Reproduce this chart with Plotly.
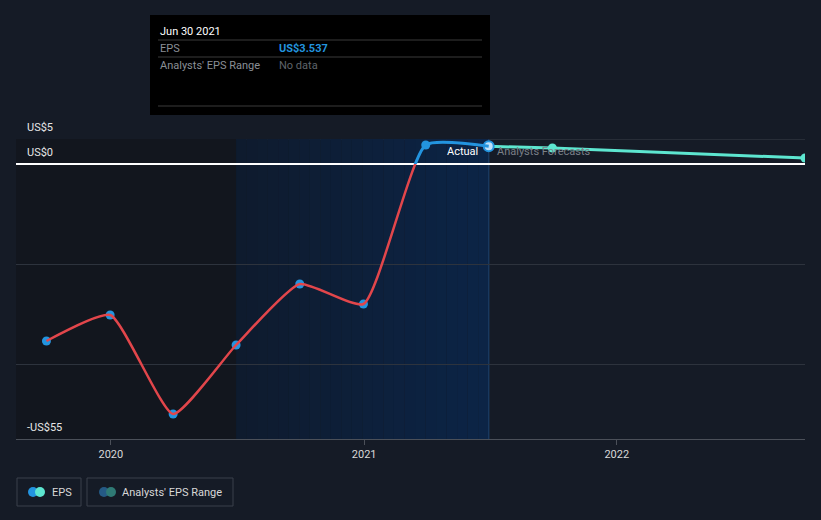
import plotly.graph_objects as go
import pandas as pd

# ---- data ----
actual_dates = ["2019-09-30", "2019-12-31", "2020-03-31", "2020-06-30",
                "2020-09-30", "2020-12-31", "2021-03-31", "2021-06-30"]
actual_eps = [-35.4, -30.2, -50.0, -36.2, -24.0, -28.0, 3.8, 3.537]
forecast_dates = ["2021-06-30", "2021-09-30", "2022-09-30"]
forecast_eps = [3.537, 3.2, 1.2]
year_ticks = ["2020-01-01", "2021-01-01", "2022-01-01"]
year_labels = ["2020", "2021", "2022"]
y_label_vals = [5, 0, -55]
y_label_text = ["US$5", "US$0", "-US$55"]
grid_vals = [-20, -40]
x_range = ["2019-08-17", "2022-09-30"]

BG = "#151b26"
RED = "#e2464b"
BLUE = "#2394df"
TEAL = "#5de6d0"

Y_MIN, Y_MAX = -55, 5
zero_frac = (0 - Y_MIN) / (Y_MAX - Y_MIN)
SMOOTH = 0.5

fig = go.Figure()

# red (negative) part of the line
fig.add_trace(go.Scatter(x=actual_dates, y=actual_eps, mode="lines",
                         line=dict(color=RED, width=2.5, shape="spline", smoothing=SMOOTH),
                         yaxis="y3", hoverinfo="skip", showlegend=False))
# blue (positive) part of the line
fig.add_trace(go.Scatter(x=actual_dates, y=actual_eps, mode="lines",
                         line=dict(color=BLUE, width=3, shape="spline", smoothing=SMOOTH),
                         yaxis="y2", hoverinfo="skip", showlegend=False))
# forecast line
fig.add_trace(go.Scatter(x=forecast_dates, y=forecast_eps, mode="lines+markers",
                         line=dict(color=TEAL, width=3),
                         marker=dict(color=TEAL, size=9),
                         hoverinfo="skip", showlegend=False))
# actual markers
fig.add_trace(go.Scatter(x=actual_dates[:-1], y=actual_eps[:-1], mode="markers",
                         marker=dict(color=BLUE, size=9), cliponaxis=False,
                         hoverinfo="skip", showlegend=False))
fig.add_trace(go.Scatter(x=actual_dates[-1:], y=actual_eps[-1:], mode="markers",
                         marker=dict(color="#bfe0fa", size=10, line=dict(color=BLUE, width=2)),
                         cliponaxis=False, hoverinfo="skip", showlegend=False))

W, H, ML, MT = 821, 520, 16, 139
PW, PH = W - 2 * ML, 300


def px_x(p):
    return (p - ML) / PW


def px_y(p):
    return 1 - (p - MT) / PH


shapes = []
t0 = pd.Timestamp(actual_dates[3])
t1 = pd.Timestamp(actual_dates[-1])
# dark past region
shapes.append(dict(type="rect", xref="x", yref="y", x0=x_range[0], x1=t0,
                   y0=Y_MIN, y1=Y_MAX, fillcolor="#12161e", line_width=0, layer="below"))
# blue gradient region
n = 24
c0 = (0x0f, 0x1b, 0x2e)
c1 = (0x0c, 0x25, 0x47)
for i in range(n):
    a = t0 + (t1 - t0) * i / n
    b = t0 + (t1 - t0) * (i + 1) / n
    f = (i + 0.5) / n
    col = "rgb(%d,%d,%d)" % tuple(int(c0[k] + (c1[k] - c0[k]) * f) for k in range(3))
    shapes.append(dict(type="rect", xref="x", yref="y", x0=a, x1=b, y0=Y_MIN, y1=Y_MAX,
                       fillcolor=col, line_width=0, layer="below"))
shapes.append(dict(type="line", xref="x", yref="y", x0=t1, x1=t1, y0=Y_MIN, y1=Y_MAX,
                   line=dict(color="#18385f", width=1.5), layer="below"))
# top gridline
shapes.append(dict(type="line", xref="paper", yref="y", x0=0, x1=1, y0=Y_MAX, y1=Y_MAX,
                   line=dict(color="#3b4049", width=1), layer="below"))

# tooltip box
tip = dict(x0=150, x1=490, y0=15, y1=115)
shapes.append(dict(type="rect", xref="paper", yref="paper",
                   x0=px_x(tip["x0"]), x1=px_x(tip["x1"]), y0=px_y(tip["y1"]), y1=px_y(tip["y0"]),
                   fillcolor="#000000", line_width=0))
for yy in [40, 57, 106]:
    shapes.append(dict(type="line", xref="paper", yref="paper", x0=px_x(158), x1=px_x(482),
                       y0=px_y(yy), y1=px_y(yy), line=dict(color="#3a3a3a", width=1)))

# legend boxes
for (bx0, bx1) in [(17, 81), (87, 233)]:
    shapes.append(dict(type="rect", xref="paper", yref="paper", x0=px_x(bx0), x1=px_x(bx1),
                       y0=px_y(506), y1=px_y(478), line=dict(color="#3a404a", width=1),
                       fillcolor="rgba(0,0,0,0)"))
for cx, col in [(33, BLUE), (40, TEAL), (104, "#255a85"), (111, "#2f7a75")]:
    shapes.append(dict(type="circle", xref="paper", yref="paper",
                       x0=px_x(cx - 5), x1=px_x(cx + 5), y0=px_y(497), y1=px_y(487),
                       fillcolor=col, line_width=0))

annotations = []
for v, t in zip(y_label_vals, y_label_text):
    annotations.append(dict(x=px_x(25), y=v, xref="paper", yref="y", text=t, showarrow=False,
                            xanchor="left", yanchor="bottom", yshift=3,
                            font=dict(color="#e6e6e6", size=11)))
annotations.append(dict(x=t1, y=0, xref="x", yref="y", text="Actual", showarrow=False,
                        xanchor="right", yanchor="middle", xshift=-9, yshift=13,
                        font=dict(color="#ffffff", size=11)))
annotations.append(dict(x=t1, y=0, xref="x", yref="y", text="Analysts Forecasts", showarrow=False,
                        xanchor="left", yanchor="middle", xshift=6, yshift=13,
                        font=dict(color="#7a7f87", size=11)))
# tooltip + legend text
extra = [
    dict(x=px_x(158), y=px_y(31), text="Jun 30 2021", font=dict(color="#ffffff", size=11)),
    dict(x=px_x(158), y=px_y(48), text="EPS", font=dict(color="#8a8f96", size=11)),
    dict(x=px_x(277), y=px_y(48), text="<b>US$3.537</b>", font=dict(color=BLUE, size=11)),
    dict(x=px_x(158), y=px_y(65), text="Analysts' EPS Range", font=dict(color="#8a8f96", size=11)),
    dict(x=px_x(277), y=px_y(65), text="No data", font=dict(color="#5f646b", size=11)),
    dict(x=px_x(50), y=px_y(492), text="EPS", font=dict(color="#d8d8d8", size=11)),
    dict(x=px_x(120), y=px_y(492), text="Analysts' EPS Range", font=dict(color="#d8d8d8", size=11)),
]
for a in extra:
    a.update(xref="paper", yref="paper", showarrow=False, xanchor="left", yanchor="middle")
annotations += extra

fig.update_layout(
    width=W, height=H,
    margin=dict(l=ML, r=ML, t=MT, b=H - MT - PH),
    paper_bgcolor=BG, plot_bgcolor="rgba(0,0,0,0)",
    font=dict(family="Roboto", color="#d8d8d8", size=11),
    showlegend=False,
    shapes=shapes, annotations=annotations,
    xaxis=dict(type="date", range=x_range,
               tickvals=year_ticks, ticktext=year_labels,
               showgrid=False, showline=True, linecolor="#4b5059", linewidth=1,
               ticks="outside", ticklen=5, tickcolor="#4b5059",
               tickfont=dict(color="#d8d8d8", size=11), zeroline=False, fixedrange=True),
    yaxis=dict(range=[Y_MIN, Y_MAX], tickvals=grid_vals, showticklabels=False,
               showgrid=True, gridcolor="#2d333d", gridwidth=1,
               zeroline=True, zerolinecolor="#ffffff", zerolinewidth=1.5, fixedrange=True),
    yaxis2=dict(range=[0, Y_MAX], domain=[zero_frac, 1], anchor="x", visible=False,
                showgrid=False, zeroline=False),
    yaxis3=dict(range=[Y_MIN, 0], domain=[0, zero_frac], anchor="x", visible=False,
                showgrid=False, zeroline=False),
)

fig.write_html("out.html")
